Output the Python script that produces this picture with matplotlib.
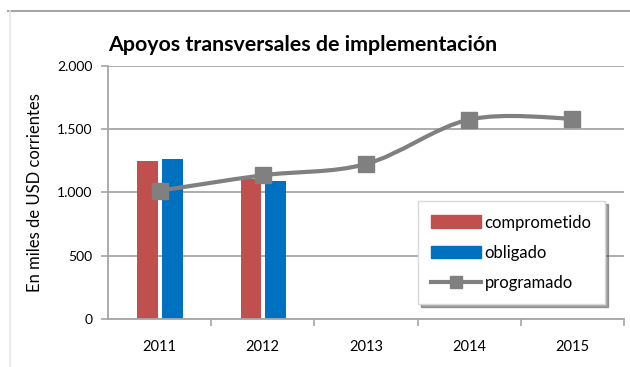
import numpy as np
import matplotlib.pyplot as plt
from matplotlib.path import Path
from matplotlib.patches import PathPatch, Patch
from matplotlib.lines import Line2D

plt.rcParams['font.family'] = ['Lato', 'DejaVu Sans']

# values in thousands of current USD
years = ['2011', '2012', '2013', '2014', '2015']
comprometido = [1248, 1106]
obligado = [1261, 1090]
programado = [1013, 1135, 1224, 1575, 1583]

c_red = '#C0504D'
c_blue = '#0070C0'
c_gray = '#808080'
c_grid = '#A6A6A6'


def smooth_path(xs, ys, tension=1.0):
    # Catmull-Rom segments turned into cubic bezier pieces
    pts = np.column_stack([xs, ys]).astype(float)
    n = len(pts)
    verts = [pts[0]]
    codes = [Path.MOVETO]
    for i in range(n - 1):
        p0 = pts[i - 1] if i > 0 else pts[i]
        p1 = pts[i]
        p2 = pts[i + 1]
        p3 = pts[i + 2] if i + 2 < n else pts[i + 1]
        c1 = p1 + (p2 - p0) / 6.0 * tension
        c2 = p2 - (p3 - p1) / 6.0 * tension
        verts += [c1, c2, p2]
        codes += [Path.CURVE4] * 3
    return Path(verts, codes)


fig = plt.figure(figsize=(6.3, 3.67), dpi=100)
ax = fig.add_axes([0.1714, 0.1308, 0.819, 0.690])

x = np.arange(len(years))
w = 0.2
ax.bar(x[:2] - 0.115, comprometido, w, color=c_red, zorder=2)
ax.bar(x[:2] + 0.125, obligado, w, color=c_blue, zorder=2)

ax.add_patch(PathPatch(smooth_path(x, programado), fill=False,
                       edgecolor=c_gray, lw=3, zorder=3))
ax.plot(x, programado, ls='none', marker='s', ms=11, color=c_gray, zorder=4)

ax.set_xlim(-0.5, 4.5)
ax.set_ylim(0, 2000)
ax.set_yticks([0, 500, 1000, 1500, 2000])
ax.set_yticklabels(['0', '500', '1.000', '1.500', '2.000'], fontsize=10)
ax.set_xticks(x)
ax.set_xticklabels(years, fontsize=10.5)
ax.set_xticks(np.arange(0.5, 5, 1), minor=True)
ax.tick_params(axis='x', which='major', length=0, pad=15)
ax.tick_params(axis='x', which='minor', length=5, color=c_grid, width=1.2)
ax.tick_params(axis='y', length=5, color=c_grid, width=1.2, pad=6)

ax.grid(axis='y', color=c_grid, lw=1.3, zorder=0)
ax.set_axisbelow(True)
for side in ['top', 'right']:
    ax.spines[side].set_visible(False)
for side in ['left', 'bottom']:
    ax.spines[side].set_color(c_grid)
    ax.spines[side].set_linewidth(1.3)

ax.set_ylabel('En miles de USD corrientes', fontsize=12, labelpad=10)
fig.text(0.1714, 0.877, 'Apoyos transversales de implementación',
         fontsize=15.4, fontweight='bold', ha='left', va='center')

handles = [Patch(color=c_red), Patch(color=c_blue),
           Line2D([], [], color=c_gray, lw=3, marker='s', ms=9)]
leg = ax.legend(handles, ['comprometido', 'obligado', 'programado'],
                loc='upper left', bbox_to_anchor=(0.601, 0.465),
                fontsize=12, frameon=True, shadow=True, fancybox=False,
                handlelength=3.0, handleheight=0.8, handletextpad=0.2,
                labelspacing=0.85, borderpad=0.8, borderaxespad=0)
leg.get_frame().set_edgecolor('#D9D9D9')

# outer chart frame
fig.add_artist(Line2D([8 / 630, 1], [1 - 11 / 367] * 2, color=c_grid, lw=1.5))
fig.add_artist(Line2D([10 / 630] * 2, [0, 1 - 11 / 367], color='#E6E6E6', lw=1.2))

fig.savefig('out.png', dpi=100)
